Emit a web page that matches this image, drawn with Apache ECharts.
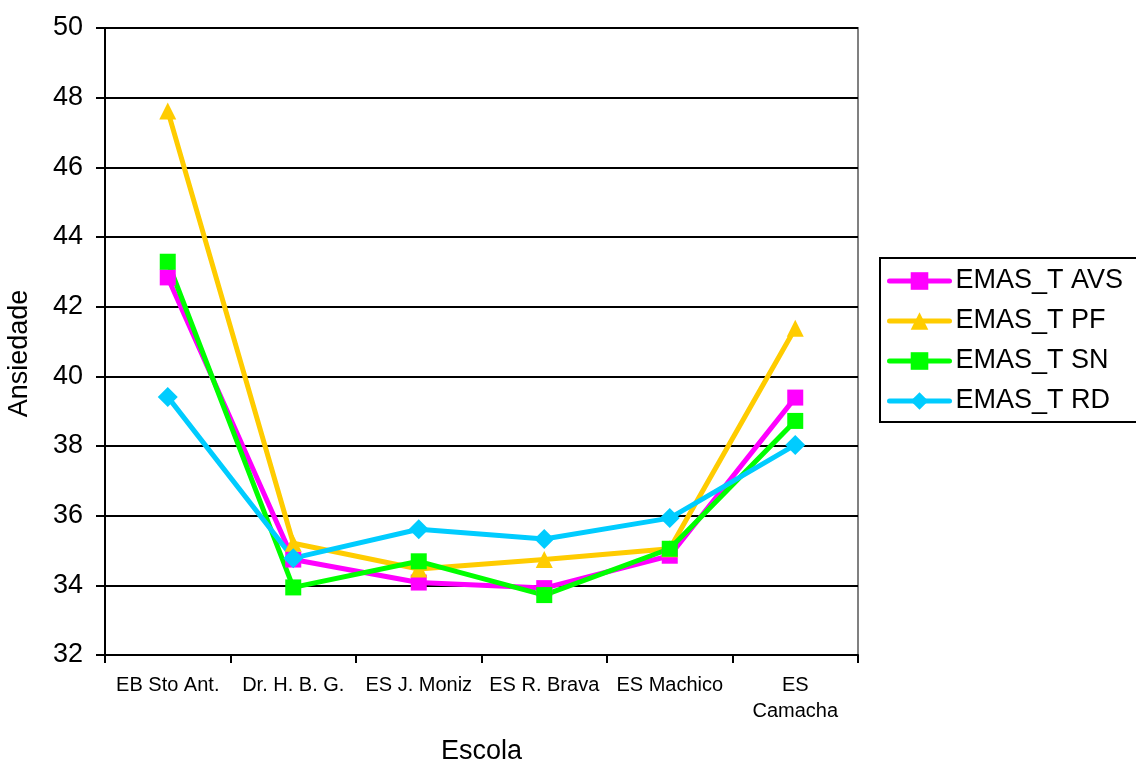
<!DOCTYPE html>
<html>
<head>
<meta charset="utf-8">
<script src="https://cdn.jsdelivr.net/npm/echarts@6/dist/echarts.min.js"></script>
<style>
html,body{margin:0;padding:0;background:#fff;}
#chart{width:1136px;height:765px;}
</style>
</head>
<body>
<div id="chart"></div>
<script>
const categories = ['EB Sto Ant.', 'Dr. H. B. G.', 'ES J. Moniz', 'ES R. Brava', 'ES Machico', 'ES\nCamacha'];
const avs = [42.84, 34.74, 34.08, 33.92, 34.85, 39.39];
const pf  = [47.62, 35.21, 34.47, 34.74, 35.05, 41.38];
const sn  = [43.29, 33.94, 34.69, 33.72, 35.05, 38.72];
const rd  = [39.41, 34.78, 35.61, 35.33, 35.93, 38.03];
const yTicks = [32, 34, 36, 38, 40, 42, 44, 46, 48, 50];

const font = 'Arial, "Liberation Sans", sans-serif';
function mk(name, data, color, symbol, size) {
  return {
    name: name, type: 'line', data: data,
    symbol: symbol, symbolSize: size,
    lineStyle: {color: color, width: 5},
    itemStyle: {color: color},
    emphasis: {disabled: true},
    animation: false
  };
}
const chart = echarts.init(document.getElementById('chart'));
chart.setOption({
  backgroundColor: '#fff',
  animation: false,
  grid: {left: 105, right: 278, top: 28, bottom: 110, show: true, borderColor: '#808080', borderWidth: 2,
         backgroundColor: 'transparent', outerBoundsMode: 'none', containLabel: false},
  legend: {
    orient: 'vertical', left: 880, top: 258,
    itemWidth: 60, itemHeight: 22, itemGap: 10,
    padding: [8, 20, 6, 7],
    borderColor: '#000', borderWidth: 2,
    lineStyle: {width: 5, cap: 'round'},
    textStyle: {fontFamily: font, fontSize: 27, color: '#000', lineHeight: 30, padding: [0, 0, 0, 1]},
    data: ['EMAS_T AVS', 'EMAS_T PF', 'EMAS_T SN', 'EMAS_T RD']
  },
  xAxis: {
    type: 'category', data: categories, boundaryGap: true,
    name: 'Escola', nameLocation: 'middle', nameGap: 83,
    nameTextStyle: {fontFamily: font, fontSize: 27, color: '#000'},
    axisLine: {lineStyle: {color: '#000', width: 2}},
    axisTick: {show: true, length: 8, lineStyle: {color: '#000', width: 2}},
    axisLabel: {fontFamily: font, fontSize: 20, color: '#000', margin: 17, interval: 0, lineHeight: 26},
    splitLine: {show: false}
  },
  yAxis: {
    type: 'value', min: 32, max: 50, interval: 2,
    name: 'Ansiedade', nameLocation: 'middle', nameGap: 72, nameRotate: 90,
    nameTextStyle: {fontFamily: font, fontSize: 27, color: '#000', padding: [0, 24, 0, 0]},
    axisLine: {show: true, lineStyle: {color: '#000', width: 2}},
    axisTick: {show: true, length: 9, lineStyle: {color: '#000', width: 2}},
    axisLabel: {fontFamily: font, fontSize: 27, color: '#000', margin: 22,
      formatter: function (v) { return yTicks.indexOf(v) >= 0 ? String(v) : ''; }},
    splitLine: {show: true, lineStyle: {color: '#000', width: 2}}
  },
  series: [
    mk('EMAS_T AVS', avs, '#FF00FF', 'rect', 16),
    mk('EMAS_T PF', pf, '#FFCC00', 'triangle', 17),
    mk('EMAS_T SN', sn, '#00FF00', 'rect', 16),
    mk('EMAS_T RD', rd, '#00CCFF', 'diamond', 20)
  ]
});
</script>
</body>
</html>
